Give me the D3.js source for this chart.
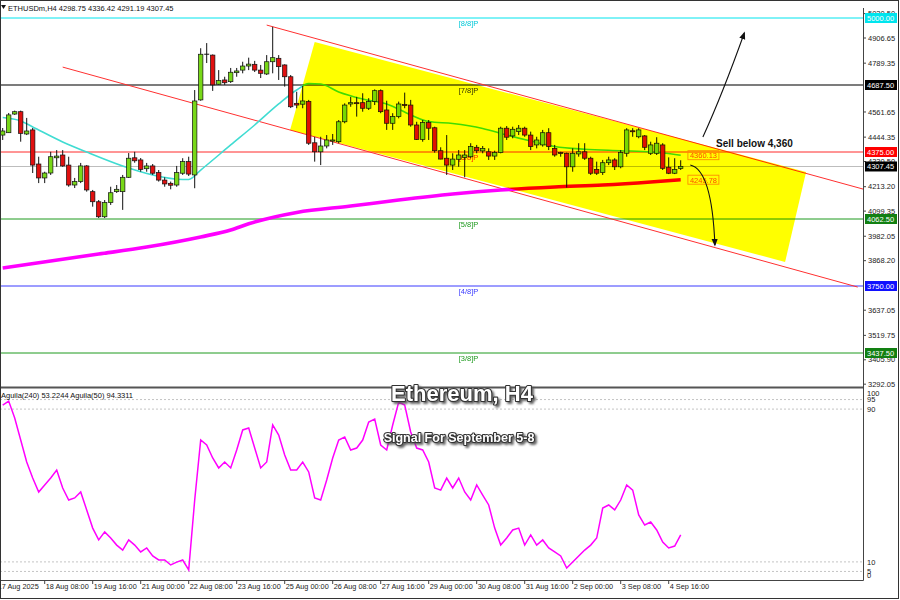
<!DOCTYPE html>
<html><head><meta charset="utf-8">
<script src="https://cdn.jsdelivr.net/npm/d3@7"></script>
<style>body{margin:0;background:#fff}svg{display:block}text{font-family:"Liberation Sans",Arial,sans-serif}</style>
</head><body><svg id="c" width="900" height="600"></svg>
<script>
// ---------- DATA ----------
const headerText = "ETHUSDm,H4  4298.75 4336.42 4291.19 4307.45";
const indHeader = "Aguila(240) 53.2244  Aguila(50) 94.3311";
const titleText = "Ethereum, H4";
const subtitleText = "Signal For September 5-8";
const sellText = "Sell below 4,360";
// OHLC per H4 bar, bar 0 = 17 Aug 2025 04:00
const ohlc = [
[4454,4487,4431,4473],[4465,4557,4464,4548],[4552,4568,4548,4563],[4563,4568,4423,4462],[4459,4534,4454,4473],
[4478,4487,4277,4314],[4319,4353,4230,4254],[4254,4283,4230,4277],[4277,4376,4268,4353],[4348,4384,4306,4356],
[4361,4384,4306,4310],[4314,4353,4213,4221],[4221,4254,4207,4237],[4237,4324,4230,4310],[4310,4314,4190,4198],
[4190,4198,4120,4143],[4143,4151,4067,4073],[4073,4151,4067,4139],[4139,4213,4128,4185],[4190,4221,4184,4201],
[4190,4268,4105,4257],[4257,4370,4254,4346],[4348,4376,4325,4334],[4338,4347,4283,4294],[4297,4324,4283,4310],
[4310,4319,4268,4276],[4279,4291,4237,4244],[4244,4257,4213,4226],[4229,4237,4201,4220],[4221,4310,4213,4279],
[4276,4346,4268,4330],[4330,4353,4263,4272],[4268,4664,4206,4613],[4618,4859,4614,4831],[4831,4883,4790,4831],
[4827,4830,4660,4688],[4691,4757,4688,4708],[4711,4726,4688,4698],[4703,4767,4697,4747],[4745,4767,4726,4753],
[4757,4796,4742,4776],[4776,4815,4757,4785],[4784,4800,4748,4757],[4757,4781,4720,4742],[4739,4827,4734,4796],
[4796,4959,4742,4815],[4812,4827,4711,4773],[4781,4784,4680,4726],[4726,4734,4580,4586],[4602,4656,4579,4594],
[4598,4683,4579,4613],[4610,4618,4408,4416],[4418,4446,4330,4376],[4376,4446,4314,4403],[4403,4454,4392,4431],
[4426,4459,4408,4431],[4423,4524,4416,4516],[4516,4602,4509,4594],[4599,4632,4586,4605],[4605,4632,4540,4602],
[4605,4649,4563,4579],[4579,4626,4571,4610],[4610,4667,4594,4661],[4661,4667,4556,4563],[4571,4614,4478,4509],
[4509,4556,4478,4540],[4540,4610,4532,4599],[4596,4652,4579,4594],[4594,4618,4493,4501],[4501,4516,4431,4434],
[4434,4524,4423,4512],[4512,4524,4431,4486],[4488,4493,4372,4381],[4381,4397,4341,4342],[4346,4454,4268,4314],
[4314,4369,4291,4342],[4341,4384,4306,4361],[4350,4384,4257,4361],[4353,4416,4346,4400],[4397,4408,4369,4381],
[4380,4403,4369,4392],[4376,4392,4338,4356],[4356,4381,4338,4372],[4372,4493,4369,4486],[4486,4496,4431,4444],
[4450,4493,4439,4481],[4470,4501,4454,4486],[4486,4493,4446,4454],[4454,4470,4384,4400],[4408,4446,4392,4431],
[4408,4478,4400,4465],[4465,4486,4384,4400],[4392,4408,4353,4361],[4372,4376,4353,4369],[4369,4372,4209,4306],
[4306,4392,4283,4369],[4366,4416,4353,4376],[4376,4416,4338,4346],[4346,4353,4268,4276],[4294,4330,4268,4276],
[4279,4338,4268,4325],[4325,4353,4314,4338],[4338,4346,4291,4306],[4306,4384,4299,4372],[4369,4486,4353,4478],
[4474,4486,4446,4472],[4446,4486,4439,4478],[4450,4454,4384,4397],[4369,4423,4361,4408],[4369,4444,4361,4416],
[4408,4416,4291,4299],[4304,4350,4272,4276],[4276,4346,4272,4294],[4298.75,4336.42,4291.19,4307.45]
];
// fast MA (bar index, price)
const maFast = [[0,4536],[3,4520],[5,4492],[10,4422],[14,4375],[20,4310],[25,4268],[30,4247],[31,4247],[33,4291],
[38,4408],[42,4501],[46,4599],[49,4664],[51,4694],[53,4692],[56,4655],[60,4622],[64,4599],[68,4548],[71,4517],
[75,4508],[80,4485],[84,4454],[88,4426],[92,4401],[97,4388],[103,4381],[108,4375],[110,4370],[113,4360.13]];
// slow MA 200
const maSlow = [[0,3834],[8,3867],[16,3899],[24,3932],[33,3979],[38,4011],[41,4040],[49,4093],[58,4123],[66,4151],
[75,4179],[83,4198],[92,4212],[100,4221],[108,4235],[113,4245.78]];
const maLabels = [4360.13, 4245.78];
// oscillator per bar
const osc = [92.1,94.2,85.3,73.8,62.3,53.9,46.6,50.3,53.9,58.1,
48.7,42.4,43.5,46.6,37.2,27.7,21.5,25.7,22.5,18.8,
16.2,21.5,18.8,15.2,17.3,13.1,11.0,11.0,8.4,9.9,
11.0,5.8,42.4,73.8,71.2,64.4,59.2,62.3,59.2,68.6,
79.1,80.1,69.6,59.2,62.3,81.7,76.4,66.0,58.1,58.1,
62.3,57.1,43.5,42.4,52.9,64.4,73.8,75.4,68.6,69.6,
73.8,83.2,84.8,71.2,68.6,81.7,93.7,92.1,78.0,69.6,
68.6,62.3,48.7,47.6,53.9,48.7,53.9,46.6,42.4,50.3,
45.0,39.8,27.7,18.8,22.5,26.7,27.7,18.8,24.1,18.8,
21.5,17.3,15.2,13.1,6.8,9.9,13.1,16.2,18.8,22.5,
38.2,39.8,37.2,42.4,50.3,47.6,34.6,29.3,30.9,26.7,
20.4,17.3,18.3,24.1];
const oscLevels = [95, 90, 10, 5];
const oscTickLabels = [100, 95, 90, 10, 5, 0];
// Murrey levels
const levelPrices = [5000, 4687.5, 4375, 4062.5, 3750, 3437.5];
const levelNames = ["[8/8]P","[7/8]P","[6/8]P","[5/8]P","[4/8]P","[3/8]P"];
const levelLabels = ["5000.00","4687.50","4375.00","4062.50","3750.00","3437.50"];
const bidPrice = 4307.45;
const priceTicks = [5020.50,4906.65,4789.35,4561.65,4444.35,4330.50,4213.20,4099.35,3982.05,3868.20,3637.05,3519.75,3405.90,3292.05];
const xTickBars = [-1,7,15,23,31,39,47,55,63,71,79,87,95,103,111];
const xTickLabels = ["17 Aug 2025","18 Aug 08:00","19 Aug 16:00","21 Aug 00:00","22 Aug 08:00","23 Aug 16:00","25 Aug 00:00","26 Aug 08:00","27 Aug 16:00","29 Aug 00:00","30 Aug 08:00","31 Aug 16:00","2 Sep 00:00","3 Sep 08:00","4 Sep 16:00"];
// channel (bar, price)
const chanUpper = [[44,4967],[143.4,4202]];
const chanLower = [[10,4771],[142.5,3745]];
const chanFill = [[52,4888],[133.9,4282],[130.4,3862],[47.9,4478]];
const arrowUp = [[116.7,4445],[119.9,4641],[123.6,4930]];
const arrowDown = [[114.6,4314],[118.2,4291],[118.7,3941]];
const sellPos = [118.9,4400];

// ---------- STYLES ----------
const levelLine = ["#00e5ee","#505050","#ff2a2a","#1f9a1f","#3b3bff","#1f9a1f"];
const levelText = ["#00c8d8","#333333","#ff2a2a","#1f9a1f","#3b3bff","#1f9a1f"];
const levelBg = ["#00e5ee","#000000","#ff0000","#128012","#1010ff","#128012"];
const bull = "#78d818", bear = "#e01010";

// ---------- SCALES ----------
const svg = d3.select("#c");
const x = d3.scaleLinear().domain([0,113]).range([2.7,680.7]);
const y = d3.scaleLinear().domain([3437.5,5000]).range([353,18]);
const yo = d3.scaleLinear().domain([0,100]).range([581,390]);
const AX = 863, MAIN_TOP = 8, MAIN_BOT = 387, IND_TOP = 389, IND_BOT = 580.5;

svg.append("rect").attr("width",900).attr("height",600).attr("fill","#fff");
const defs = svg.append("defs");
defs.append("clipPath").attr("id","cm").append("rect").attr("x",0).attr("y",MAIN_TOP).attr("width",AX).attr("height",MAIN_BOT-MAIN_TOP);
defs.append("clipPath").attr("id","ci").append("rect").attr("x",0).attr("y",IND_TOP).attr("width",AX).attr("height",IND_BOT-IND_TOP);
defs.append("marker").attr("id","ah").attr("viewBox","0 0 10 10").attr("refX",8).attr("refY",5)
  .attr("markerWidth",7).attr("markerHeight",7).attr("orient","auto")
  .append("path").attr("d","M0,1 L10,5 L0,9 z").attr("fill","#111");
const f = defs.append("filter").attr("id","sh").attr("x","-10%").attr("y","-30%").attr("width","130%").attr("height","170%");
f.append("feDropShadow").attr("dx",2).attr("dy",2).attr("stdDeviation",0.8).attr("flood-color","#555").attr("flood-opacity",0.9);

const main = svg.append("g").attr("clip-path","url(#cm)");

// level lines
levelPrices.forEach((p,i)=>{
  main.append("line").attr("x1",0).attr("x2",AX).attr("y1",y(p)).attr("y2",y(p))
    .attr("stroke",levelLine[i]).attr("stroke-width", i===1?1.4:1);
  main.append("text").attr("x",x(76)).attr("y",y(p)+8).attr("font-size",7.5).attr("fill",levelText[i]).text(levelNames[i]);
});
main.append("line").attr("x1",0).attr("x2",AX).attr("y1",y(bidPrice)).attr("y2",y(bidPrice)).attr("stroke","#bdbdbd").attr("stroke-width",1.2);

// channel lines
const line = d3.line().x(d=>x(d[0])).y(d=>y(d[1]));
[chanUpper,chanLower].forEach(c=>main.append("path").attr("d",line(c)).attr("fill","none").attr("stroke","#ff3030").attr("stroke-width",1));

// MAs
const curve = d3.line().x(d=>x(d[0])).y(d=>y(d[1])).curve(d3.curveMonotoneX);
main.append("path").attr("d",curve(maSlow)).attr("fill","none").attr("stroke","#ff00ff").attr("stroke-width",3.6);
main.append("path").attr("d",curve(maFast)).attr("fill","none").attr("stroke","#40dcd2").attr("stroke-width",1.6);

// candles
const cg = main.append("g");
ohlc.forEach((d,i)=>{
  const [o,h,l,c] = d, cx = x(i);
  cg.append("line").attr("x1",cx).attr("x2",cx).attr("y1",y(h)).attr("y2",y(l)).attr("stroke","#111").attr("stroke-width",1);
  const top = y(Math.max(o,c)), bot = y(Math.min(o,c));
  if (Math.abs(o-c) < 1.5) {
    cg.append("line").attr("x1",cx-2.5).attr("x2",cx+2.5).attr("y1",top).attr("y2",top).attr("stroke","#111").attr("stroke-width",1);
  } else {
    cg.append("rect").attr("x",cx-2.2).attr("width",4.4).attr("y",top).attr("height",Math.max(1,bot-top))
      .attr("fill", c>o?bull:bear).attr("stroke","#111").attr("stroke-width",0.7);
  }
});

// MA value labels
maLabels.forEach(v=>{
  main.append("rect").attr("x",x(114.2)).attr("y",y(v)-4.5).attr("width",31).attr("height",9)
    .attr("fill","none").attr("stroke","#ff8c00").attr("stroke-width",0.9);
  main.append("text").attr("x",x(114.2)+2).attr("y",y(v)+3).attr("font-size",7.5).attr("fill","#ff4a00").text(v.toFixed(2));
});

// yellow channel with multiply blend
main.append("path").attr("d",line(chanFill)+"Z").attr("fill","#ffff00").style("mix-blend-mode","multiply");

// arrows & sell text
const q = pts => `M${x(pts[0][0])},${y(pts[0][1])} Q${x(pts[1][0])},${y(pts[1][1])} ${x(pts[2][0])},${y(pts[2][1])}`;
[arrowUp,arrowDown].forEach(a=>svg.append("path").attr("d",q(a)).attr("fill","none").attr("stroke","#111").attr("stroke-width",1.1).attr("marker-end","url(#ah)"));
svg.append("text").attr("x",x(sellPos[0])).attr("y",y(sellPos[1])).attr("font-size",10).attr("font-weight","bold").attr("fill","#111").text(sellText);

// header
svg.append("path").attr("d","M1,5 L6,5 L3.5,9 Z").attr("fill","#111");
svg.append("text").attr("x",8).attr("y",11).attr("font-size",7.5).attr("fill","#111").text(headerText);

// ---------- indicator panel ----------
const ind = svg.append("g").attr("clip-path","url(#ci)");
oscLevels.forEach(v=>ind.append("line").attr("x1",0).attr("x2",AX).attr("y1",yo(v)).attr("y2",yo(v))
  .attr("stroke","#c4c4c4").attr("stroke-dasharray","2,2").attr("stroke-width",1));
ind.append("path").attr("d",d3.line().x((d,i)=>x(i)).y(d=>yo(d))(osc)).attr("fill","none").attr("stroke","#ff00ff").attr("stroke-width",1.5);
svg.append("text").attr("x",1).attr("y",398).attr("font-size",7.5).attr("fill","#111").text(indHeader);

// frames / axes
svg.append("line").attr("x1",0).attr("x2",AX).attr("y1",MAIN_BOT+0.5).attr("y2",MAIN_BOT+0.5).attr("stroke","#555").attr("stroke-width",2);
svg.append("line").attr("x1",AX+0.5).attr("x2",AX+0.5).attr("y1",MAIN_TOP).attr("y2",IND_BOT).attr("stroke","#444").attr("stroke-width",1);
svg.append("line").attr("x1",0).attr("x2",AX+0.5).attr("y1",IND_BOT).attr("y2",IND_BOT).attr("stroke","#444").attr("stroke-width",1);
svg.append("rect").attr("x",0.5).attr("y",0.5).attr("width",898).attr("height",598).attr("fill","none").attr("stroke","#333").attr("stroke-width",1);

// price axis ticks
const pa = svg.append("g");
priceTicks.forEach(v=>{
  pa.append("line").attr("x1",AX).attr("x2",AX+3).attr("y1",y(v)).attr("y2",y(v)).attr("stroke","#444");
  pa.append("text").attr("x",AX+5).attr("y",y(v)+2.7).attr("font-size",7.5).attr("fill","#222").text(v.toFixed(2));
});
// level labels on axis
const lab = (v,txt,bg)=>{
  pa.append("rect").attr("x",AX+2).attr("y",y(v)-5).attr("width",32).attr("height",10).attr("fill",bg);
  pa.append("text").attr("x",AX+4).attr("y",y(v)+2.8).attr("font-size",7.5).attr("fill","#fff").text(txt);
};
levelPrices.forEach((p,i)=>lab(p,levelLabels[i],levelBg[i]));
lab(bidPrice, bidPrice.toFixed(2), "#000");

// oscillator axis
oscTickLabels.forEach(v=>{
  const yy = Math.min(Math.max(yo(v),393),575);
  svg.append("text").attr("x",AX+4).attr("y",yy+2.7).attr("font-size",7.5).attr("fill","#222").text(v);
});

// time axis
xTickBars.forEach((b,i)=>{
  svg.append("line").attr("x1",x(b)).attr("x2",x(b)).attr("y1",IND_BOT).attr("y2",IND_BOT+3.5).attr("stroke","#444");
  svg.append("text").attr("x",x(b)+1).attr("y",589).attr("font-size",7.3).attr("fill","#222").text(xTickLabels[i]);
});

// titles
const title = (txt,cx,by,fs)=>{
  svg.append("text").attr("x",cx).attr("y",by).attr("text-anchor","middle").attr("font-size",fs).attr("font-weight","bold")
    .attr("fill","#fff").attr("stroke","#333").attr("stroke-width",2.2).attr("stroke-linejoin","round")
    .style("paint-order","stroke").attr("filter","url(#sh)").text(txt);
};
title(titleText, 462, 401, 22);
title(subtitleText, 459, 442, 12.5);
</script></body></html>
